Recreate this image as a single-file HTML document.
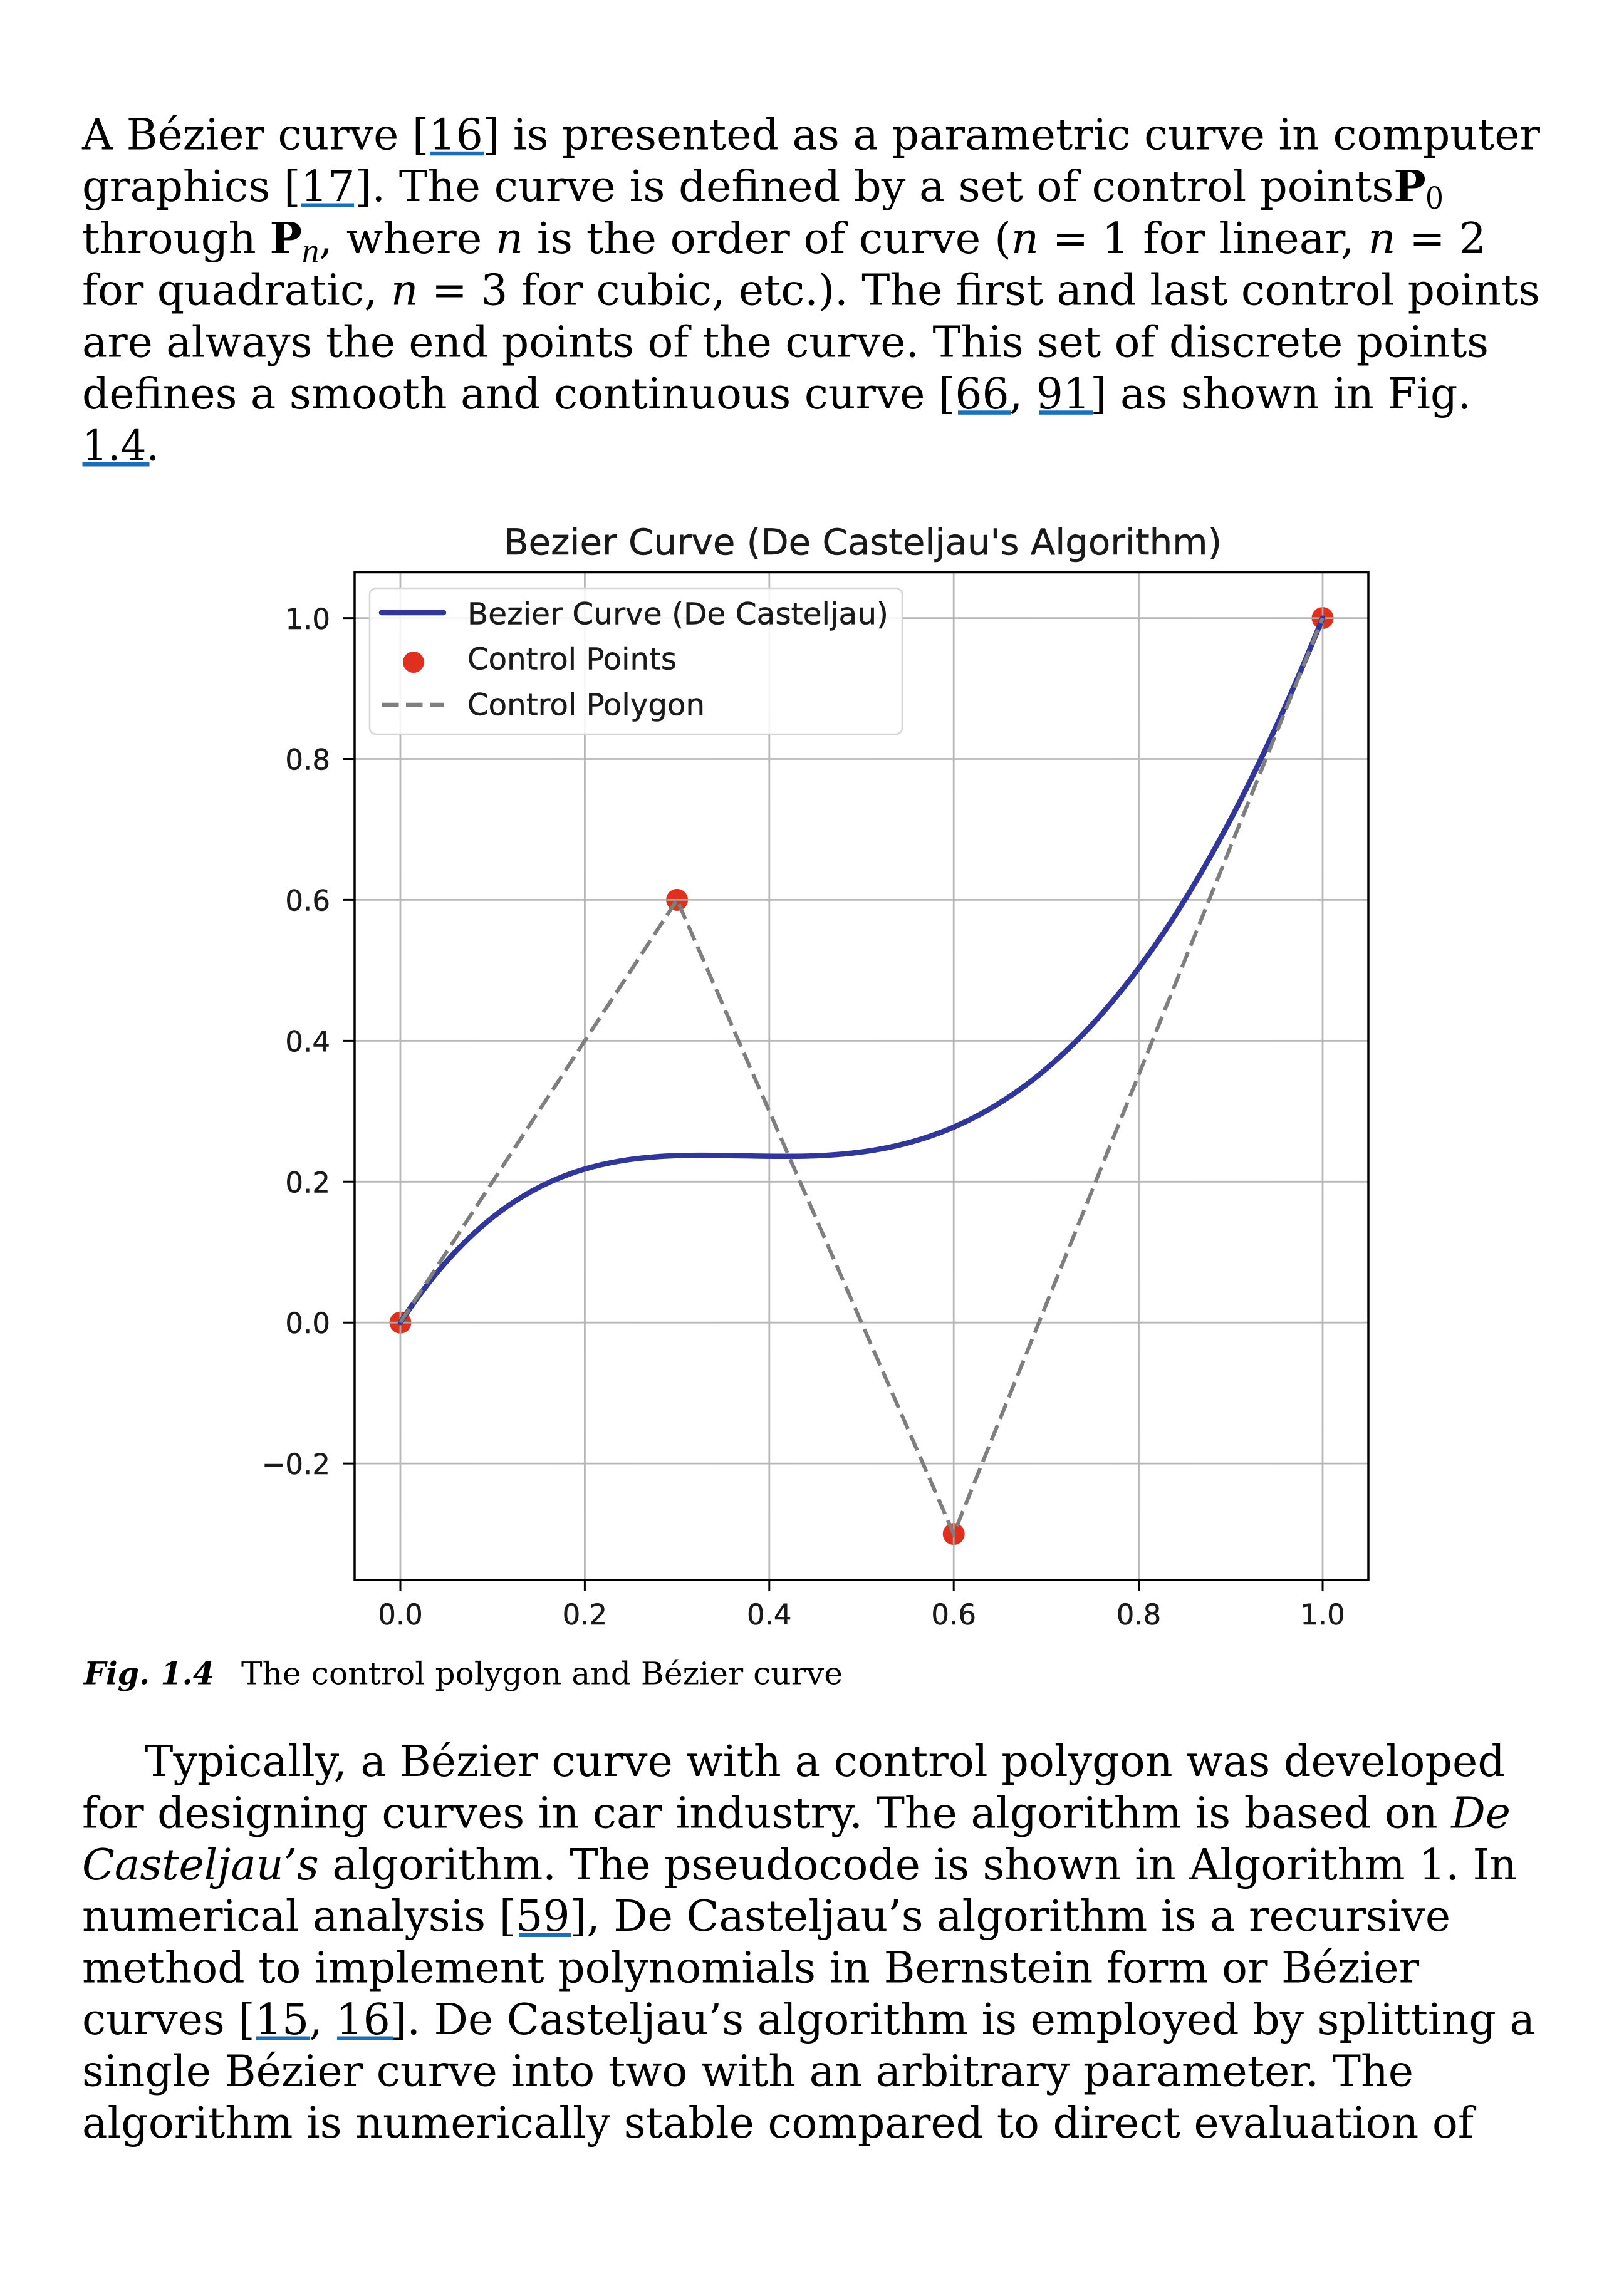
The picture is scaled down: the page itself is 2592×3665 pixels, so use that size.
<!DOCTYPE html>
<html>
<head>
<meta charset="utf-8">
<style>
  html,body{margin:0;padding:0;background:#fff;}
  svg{display:block;}
  .t{font-family:"DejaVu Serif","Liberation Serif",serif;font-size:68px;fill:#000;}
  .c{font-family:"DejaVu Serif","Liberation Serif",serif;font-size:50px;fill:#000;}
  .s{font-family:"DejaVu Sans","Liberation Sans",sans-serif;fill:#1a1a1a;stroke:#1a1a1a;stroke-width:0.5px;}
</style>
</head>
<body>
<svg width="2592" height="3665" viewBox="0 0 2592 3665" xmlns="http://www.w3.org/2000/svg">
  <rect x="0" y="0" width="2592" height="3665" fill="#fff"/>

  <!-- Paragraph 1 -->
  <text class="t" x="131" y="238.5" textLength="2327" lengthAdjust="spacingAndGlyphs">A Bézier curve [16] is presented as a parametric curve in computer</text>
  <text class="t" x="131" y="321.2" textLength="2172" lengthAdjust="spacingAndGlyphs">graphics [17]. The curve is defined by a set of control points<tspan font-weight="bold">P</tspan><tspan font-family="Liberation Serif, serif" font-size="54" dy="12">0</tspan></text>
  <text class="t" x="131" y="403.9" textLength="2241" lengthAdjust="spacingAndGlyphs">through <tspan font-weight="bold">P</tspan><tspan font-family="Liberation Serif, serif" font-style="italic" font-size="54" dy="14">n</tspan><tspan dy="-14">, where </tspan><tspan font-style="italic">n</tspan> is the order of curve (<tspan font-style="italic">n</tspan> = 1 for linear, <tspan font-style="italic">n</tspan> = 2</text>
  <text class="t" x="131" y="486.6" textLength="2327" lengthAdjust="spacingAndGlyphs">for quadratic, <tspan font-style="italic">n</tspan> = 3 for cubic, etc.). The first and last control points</text>
  <text class="t" x="131" y="569.3" textLength="2245" lengthAdjust="spacingAndGlyphs">are always the end points of the curve. This set of discrete points</text>
  <text class="t" x="131" y="652" textLength="2217" lengthAdjust="spacingAndGlyphs">defines a smooth and continuous curve [66, 91] as shown in Fig.</text>
  <text class="t" x="131" y="734.7" textLength="123" lengthAdjust="spacingAndGlyphs">1.4.</text>

  <!-- underlines paragraph 1 -->
  <g fill="#1b6fba">
    <rect x="686" y="241.8" width="86" height="6.5"/>
    <rect x="480" y="324.5" width="85" height="6.5"/>
    <rect x="1529" y="655.3" width="85" height="6.5"/>
    <rect x="1658" y="655.3" width="86" height="6.5"/>
    <rect x="131.5" y="738" width="107" height="6.5"/>
  </g>

  <!-- ================= Chart ================= -->
  <text class="s" x="804" y="885" font-size="57" textLength="1146" lengthAdjust="spacingAndGlyphs">Bezier Curve (De Casteljau's Algorithm)</text>

  <!-- markers -->
  <g fill="#df2f1f">
    <circle cx="639" cy="2111.2" r="17.5"/>
    <circle cx="1080.6" cy="1436.4" r="17.5"/>
    <circle cx="1522.2" cy="2448.6" r="17.5"/>
    <circle cx="2111" cy="986.6" r="17.5"/>
  </g>

  <!-- grid -->
  <g stroke="#b0b0b0" stroke-width="2.8" fill="none" opacity="0.9">
    <line x1="639" y1="913.5" x2="639" y2="2522"/>
    <line x1="933.4" y1="913.5" x2="933.4" y2="2522"/>
    <line x1="1227.8" y1="913.5" x2="1227.8" y2="2522"/>
    <line x1="1522.2" y1="913.5" x2="1522.2" y2="2522"/>
    <line x1="1817.5" y1="913.5" x2="1817.5" y2="2522"/>
    <line x1="2111" y1="913.5" x2="2111" y2="2522"/>
    <line x1="566" y1="986.6" x2="2184" y2="986.6"/>
    <line x1="566" y1="1211.5" x2="2184" y2="1211.5"/>
    <line x1="566" y1="1436.4" x2="2184" y2="1436.4"/>
    <line x1="566" y1="1661.4" x2="2184" y2="1661.4"/>
    <line x1="566" y1="1886.3" x2="2184" y2="1886.3"/>
    <line x1="566" y1="2111.2" x2="2184" y2="2111.2"/>
    <line x1="566" y1="2336.1" x2="2184" y2="2336.1"/>
  </g>

  <!-- bezier curve -->
  <path d="M639,2111.2 C1080.6,1436.4 1522.2,2448.6 2111,986.6" fill="none" stroke="#30369a" stroke-width="8.5" stroke-linecap="round"/>

  <!-- control polygon -->
  <path d="M639,2111.2 L1080.6,1436.4 L1522.2,2448.6 L2111,986.6" fill="none" stroke="#7e7e7e" stroke-width="6" stroke-dasharray="26 11"/>

  <!-- spines -->
  <rect x="566" y="913.5" width="1618" height="1608.5" fill="none" stroke="#000" stroke-width="3.5"/>

  <!-- ticks -->
  <g stroke="#000" stroke-width="3">
    <line x1="548" y1="986.6" x2="566" y2="986.6"/>
    <line x1="548" y1="1211.5" x2="566" y2="1211.5"/>
    <line x1="548" y1="1436.4" x2="566" y2="1436.4"/>
    <line x1="548" y1="1661.4" x2="566" y2="1661.4"/>
    <line x1="548" y1="1886.3" x2="566" y2="1886.3"/>
    <line x1="548" y1="2111.2" x2="566" y2="2111.2"/>
    <line x1="548" y1="2336.1" x2="566" y2="2336.1"/>
    <line x1="639" y1="2522" x2="639" y2="2540"/>
    <line x1="933.4" y1="2522" x2="933.4" y2="2540"/>
    <line x1="1227.8" y1="2522" x2="1227.8" y2="2540"/>
    <line x1="1522.2" y1="2522" x2="1522.2" y2="2540"/>
    <line x1="1817.5" y1="2522" x2="1817.5" y2="2540"/>
    <line x1="2111" y1="2522" x2="2111" y2="2540"/>
  </g>

  <!-- y tick labels -->
  <g class="s" font-size="45" text-anchor="end">
    <text x="527" y="1004">1.0</text>
    <text x="527" y="1228.5">0.8</text>
    <text x="527" y="1453.4">0.6</text>
    <text x="527" y="1678.4">0.4</text>
    <text x="527" y="1903.3">0.2</text>
    <text x="527" y="2128.2">0.0</text>
    <text x="527" y="2353.1">−0.2</text>
  </g>

  <!-- x tick labels -->
  <g class="s" font-size="45" text-anchor="middle">
    <text x="639" y="2593">0.0</text>
    <text x="933.4" y="2593">0.2</text>
    <text x="1227.8" y="2593">0.4</text>
    <text x="1522.2" y="2593">0.6</text>
    <text x="1817.5" y="2593">0.8</text>
    <text x="2111" y="2593">1.0</text>
  </g>

  <!-- legend -->
  <rect x="590" y="939" width="850" height="233" rx="10" ry="10" fill="#fff" fill-opacity="0.85" stroke="#d6d6d6" stroke-width="2.5"/>
  <line x1="609" y1="978" x2="708" y2="978" stroke="#30369a" stroke-width="8.5" stroke-linecap="round"/>
  <circle cx="660" cy="1057" r="17" fill="#df2f1f"/>
  <line x1="610" y1="1125" x2="708" y2="1125" stroke="#7e7e7e" stroke-width="6.5" stroke-dasharray="26.5 11.5"/>
  <g class="s" font-size="48">
    <text x="746" y="996.7" textLength="672" lengthAdjust="spacingAndGlyphs">Bezier Curve (De Casteljau)</text>
    <text x="746" y="1068.5" textLength="334" lengthAdjust="spacingAndGlyphs">Control Points</text>
    <text x="746" y="1141.7" textLength="379" lengthAdjust="spacingAndGlyphs">Control Polygon</text>
  </g>

  <!-- caption -->
  <text class="c" x="134" y="2688.3" font-weight="bold" font-style="italic" textLength="208" lengthAdjust="spacingAndGlyphs">Fig. 1.4</text>
  <text class="c" x="385" y="2688.3" textLength="960" lengthAdjust="spacingAndGlyphs">The control polygon and Bézier curve</text>

  <!-- Paragraph 2 -->
  <text class="t" x="231" y="2835" textLength="2171" lengthAdjust="spacingAndGlyphs">Typically, a Bézier curve with a control polygon was developed</text>
  <text class="t" x="131" y="2917.4" textLength="2280" lengthAdjust="spacingAndGlyphs">for designing curves in car industry. The algorithm is based on <tspan font-style="italic">De</tspan></text>
  <text class="t" x="131" y="2999.8" textLength="2290" lengthAdjust="spacingAndGlyphs"><tspan font-style="italic">Casteljau’s</tspan> algorithm. The pseudocode is shown in Algorithm 1. In</text>
  <text class="t" x="131" y="3082.2" textLength="2184" lengthAdjust="spacingAndGlyphs">numerical analysis [59], De Casteljau’s algorithm is a recursive</text>
  <text class="t" x="131" y="3164.6" textLength="2134" lengthAdjust="spacingAndGlyphs">method to implement polynomials in Bernstein form or Bézier</text>
  <text class="t" x="131" y="3247" textLength="2319" lengthAdjust="spacingAndGlyphs">curves [15, 16]. De Casteljau’s algorithm is employed by splitting a</text>
  <text class="t" x="131" y="3329.4" textLength="2125" lengthAdjust="spacingAndGlyphs">single Bézier curve into two with an arbitrary parameter. The</text>
  <text class="t" x="131" y="3411.8" textLength="2221" lengthAdjust="spacingAndGlyphs">algorithm is numerically stable compared to direct evaluation of</text>

  <!-- underlines paragraph 2 -->
  <g fill="#1b6fba">
    <rect x="828" y="3085.5" width="84" height="6.5"/>
    <rect x="409" y="3250.5" width="86" height="6.5"/>
    <rect x="538" y="3250.5" width="89" height="6.5"/>
  </g>
</svg>
</body>
</html>
